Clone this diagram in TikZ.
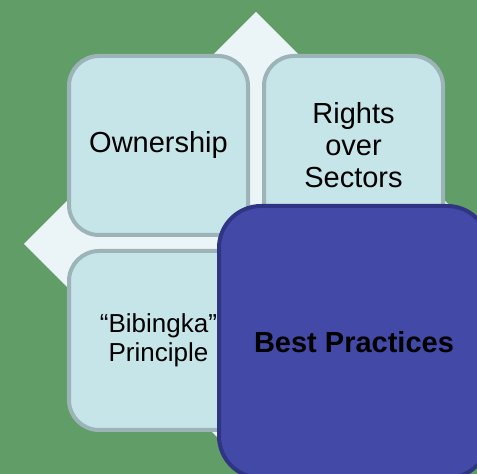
\documentclass[tikz,border=0pt]{standalone}
\usepackage{fontspec}
\setmainfont{Liberation Sans}
\usetikzlibrary{positioning}
\definecolor{field}{HTML}{619D67}
\definecolor{kite}{HTML}{EBF4F6}
\definecolor{tilefill}{HTML}{C5E5E8}
\definecolor{tileline}{HTML}{9CB4B8}
\definecolor{accent}{HTML}{4349A7}
\definecolor{accentline}{HTML}{2F3483}

\begin{document}
\begin{tikzpicture}[x=1pt,y=1pt,node distance=12pt and 12pt,
 tile/.style={draw=tileline,line width=4pt,rounded corners=30pt,fill=tilefill,
 minimum width=179pt,minimum height=179pt,inner sep=2pt,align=center,
 font=\fontsize{29}{32}\selectfont},
 focus/.style={draw=accentline,line width=4pt,rounded corners=42pt,fill=accent,
 minimum width=270pt,minimum height=272pt,align=center,
 font=\fontsize{29}{32}\selectfont\bfseries}]
 \fill[field] (0,0) rectangle (477,474);
 \useasboundingbox (0,0) rectangle (477,474);
 \clip (0,0) rectangle (477,474);
 % light diamond behind the grid
 \fill[kite] (256,462) -- (488,230) -- (256,-2) -- (24,230) -- cycle;
 \node[tile] (own) at (158.5,328.5) {Ownership};
 \node[tile,right=of own] (rights) {Rights\\over\\Sectors};
 \node[tile,below=of own,font=\fontsize{26}{29}\selectfont] (bib) {“Bibingka”\\Principle};
 \node[focus] (best) at (354,132) {Best Practices};
\end{tikzpicture}
\end{document}
